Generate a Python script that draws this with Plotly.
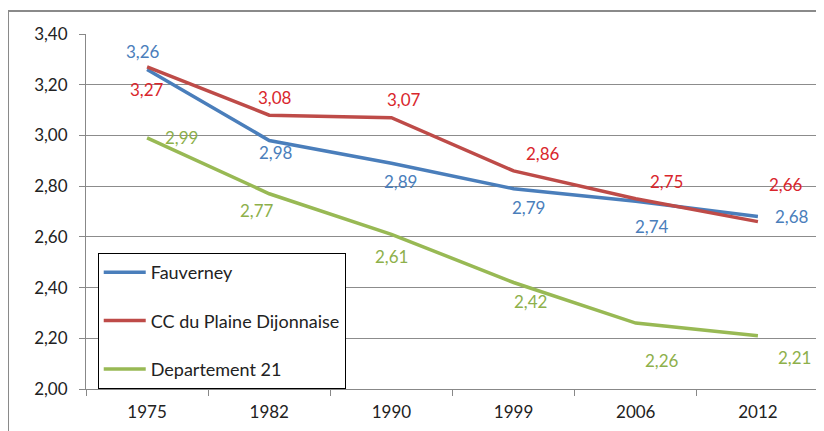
import plotly.graph_objects as go

years = ["1975", "1982", "1990", "1999", "2006", "2012"]
fauverney = [3.26, 2.98, 2.89, 2.79, 2.74, 2.68]
cc_plaine = [3.27, 3.08, 3.07, 2.86, 2.75, 2.66]
dept_21 = [2.99, 2.77, 2.61, 2.42, 2.26, 2.21]

# label offsets (pixels) for each point, as placed in the original chart
shifts = {
    "Fauverney": [(-4, 18), (7, -12), (9, -18), (15, -19), (16, -25), (34, 0)],
    "CC du Plaine Dijonnaise": [(0, -23), (6, 18), (13, 18), (29, 17), (31, 17), (28, 37)],
    "Departement 21": [(34, 0), (-12, -17), (0, -22), (17, -19), (26, -37), (37, -22)],
}

fig = go.Figure()

series = [
    ("Fauverney", fauverney, "#4A7EBB", "#4A7EBB"),
    ("CC du Plaine Dijonnaise", cc_plaine, "#BE4B48", "#D9262C"),
    ("Departement 21", dept_21, "#98B954", "#8DB04A"),
]

for i, (name, vals, col, tcol) in enumerate(series):
    fig.add_trace(go.Scatter(
        x=years, y=vals, name=name, mode="lines",
        line=dict(color=col, width=3.5),
        legendgroup=str(i),
    ))
    for k, (v, (dx, dy)) in enumerate(zip(vals, shifts[name])):
        fig.add_annotation(
            x=k, y=v, text=f"{v:.2f}".replace(".", ","),
            showarrow=False, xshift=dx, yshift=dy,
            font=dict(color=tcol, size=17),
        )

fig.update_layout(
    width=816, height=423,
    margin=dict(l=78, r=5, t=26, b=42),
    paper_bgcolor="white", plot_bgcolor="white",
    separators=", ",
    font=dict(family="Lato, Noto Sans, sans-serif", size=17, color="#222222"),
    showlegend=True,
    legend=dict(
        x=0.016, y=0, xanchor="left", yanchor="bottom",
        bordercolor="#000000", borderwidth=1, bgcolor="white",
        tracegroupgap=22, itemwidth=42,
        font=dict(size=18, color="#222222"),
    ),
    xaxis=dict(
        type="category", categoryarray=years, tickson="boundaries",
        ticks="outside", ticklen=6, ticklabelstandoff=8,
        tickcolor="#888888", showline=True, linecolor="#888888", linewidth=1,
        showgrid=False, tickfont=dict(size=17), range=[-0.5, 5.5],
    ),
    yaxis=dict(
        range=[2.0, 3.4], dtick=0.2, tickformat=".2f",
        ticks="outside", ticklen=6, tickcolor="#888888", ticklabelstandoff=8,
        showline=True, linecolor="#888888", linewidth=1,
        gridcolor="#8C8C8C", gridwidth=1, zeroline=False,
        tickfont=dict(size=17),
    ),
    shapes=[dict(
        type="rect", xref="paper", yref="paper",
        x0=-0.1064, y0=-0.3, x1=1.2, y1=1.0648,
        line=dict(color="#8A8A8A", width=2), layer="below",
    )],
)

fig.write_html("out.html")
